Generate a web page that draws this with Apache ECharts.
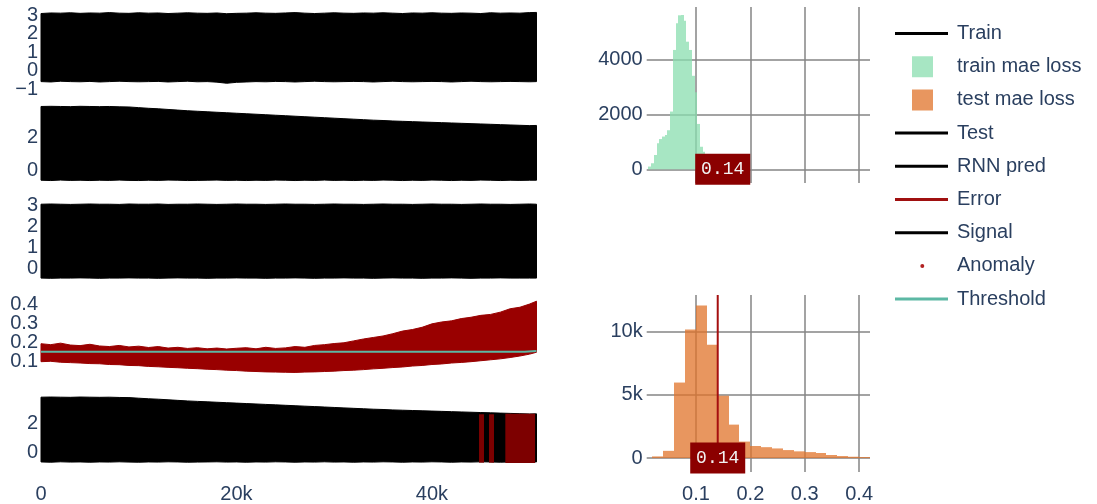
<!DOCTYPE html>
<html><head><meta charset="utf-8">
<script src="https://cdn.jsdelivr.net/npm/echarts@6/dist/echarts.min.js"></script>
<style>html,body{margin:0;padding:0;background:#fff}#c{width:1097px;height:504px}</style>
</head><body><div id="c"></div>
<script>
// ---------- data ----------
const sampleK = [0,1,2,3,4,5,6,7,8,9,10,11,12,13,14,15,16,17,18,19,20,21,22,23,24,25,26,27,28,29,30,31,32,33,34,35,36,37,38,39,40,41,42,43,44,45,46,47,48,49,50,50.7];

const trainUpper = [3.08,3.11,3.10,3.12,3.09,3.11,3.10,3.13,3.10,3.09,
  3.12,3.10,3.11,3.08,3.10,3.12,3.10,3.09,3.11,3.07,
  3.09,3.10,3.12,3.10,3.09,3.11,3.13,3.10,3.08,3.10,
  3.12,3.10,3.09,3.11,3.10,3.12,3.10,3.08,3.11,3.10,
  3.12,3.10,3.09,3.11,3.10,3.08,3.12,3.10,3.11,3.10,3.13,3.14];
const trainLower = [-0.60,-0.62,-0.58,-0.60,-0.61,-0.59,-0.62,-0.60,-0.58,-0.60,
  -0.61,-0.60,-0.59,-0.62,-0.60,-0.58,-0.61,-0.60,-0.63,-0.69,
  -0.64,-0.62,-0.60,-0.61,-0.59,-0.60,-0.62,-0.60,-0.58,-0.60,
  -0.61,-0.60,-0.59,-0.60,-0.62,-0.60,-0.58,-0.60,-0.61,-0.60,
  -0.59,-0.60,-0.62,-0.60,-0.58,-0.60,-0.61,-0.60,-0.59,-0.60,-0.61,-0.60];

const testUpper = [3.85,3.86,3.85,3.84,3.86,3.85,3.84,3.85,3.83,3.82,
  3.78,3.74,3.71,3.67,3.63,3.59,3.56,3.53,3.50,3.47,
  3.44,3.41,3.38,3.35,3.32,3.29,3.26,3.23,3.20,3.17,
  3.14,3.11,3.08,3.05,3.02,3.00,2.97,2.95,2.93,2.91,
  2.89,2.87,2.85,2.83,2.81,2.79,2.77,2.75,2.73,2.71,2.69,2.70];
const testLower = [-0.62,-0.64,-0.61,-0.63,-0.62,-0.64,-0.62,-0.63,-0.61,-0.63,
  -0.64,-0.62,-0.63,-0.61,-0.62,-0.64,-0.63,-0.62,-0.61,-0.63,
  -0.62,-0.64,-0.62,-0.63,-0.61,-0.62,-0.64,-0.62,-0.63,-0.61,
  -0.63,-0.62,-0.64,-0.62,-0.63,-0.61,-0.62,-0.64,-0.62,-0.63,
  -0.61,-0.62,-0.64,-0.62,-0.63,-0.61,-0.62,-0.64,-0.62,-0.63,-0.62,-0.62];

const rnnUpper = [3.04,3.05,3.04,3.03,3.04,3.05,3.04,3.04,3.03,3.05,
  3.04,3.04,3.05,3.03,3.04,3.04,3.05,3.04,3.03,3.04,
  3.05,3.04,3.04,3.03,3.04,3.05,3.04,3.04,3.03,3.04,
  3.05,3.04,3.04,3.03,3.04,3.05,3.04,3.04,3.03,3.04,
  3.05,3.04,3.04,3.03,3.04,3.05,3.04,3.04,3.03,3.04,3.05,3.04];
const rnnLower = [-0.43,-0.44,-0.43,-0.43,-0.42,-0.43,-0.44,-0.43,-0.43,-0.42,
  -0.43,-0.43,-0.44,-0.43,-0.42,-0.43,-0.43,-0.44,-0.43,-0.43,
  -0.42,-0.43,-0.43,-0.44,-0.43,-0.43,-0.42,-0.43,-0.44,-0.43,
  -0.43,-0.42,-0.43,-0.43,-0.44,-0.43,-0.42,-0.43,-0.43,-0.44,
  -0.43,-0.43,-0.42,-0.43,-0.44,-0.43,-0.43,-0.42,-0.43,-0.43,-0.43,-0.43];

const errorUpper = [0.195,0.19,0.198,0.188,0.185,0.192,0.183,0.18,0.186,0.178,
  0.182,0.175,0.18,0.172,0.176,0.17,0.174,0.168,0.172,0.167,
  0.171,0.174,0.168,0.176,0.17,0.173,0.18,0.176,0.186,0.19,
  0.196,0.2,0.21,0.22,0.228,0.236,0.248,0.262,0.27,0.282,
  0.3,0.31,0.316,0.328,0.335,0.345,0.35,0.362,0.38,0.388,0.405,0.42];
const errorLower = [0.1,0.102,0.097,0.095,0.093,0.09,0.089,0.085,0.084,0.08,
  0.079,0.075,0.073,0.07,0.068,0.065,0.063,0.06,0.058,0.055,
  0.053,0.05,0.048,0.046,0.045,0.044,0.043,0.045,0.046,0.048,
  0.05,0.053,0.055,0.058,0.062,0.065,0.069,0.072,0.077,0.08,
  0.085,0.088,0.093,0.096,0.1,0.105,0.11,0.115,0.122,0.13,0.14,0.15];

const thresholdK = [0, 49.5, 50.7];
const thresholdLine = [0.152, 0.152, 0.157];
const thresholdValue = 0.14;

const anomalyStartK = [44.82, 45.84, 47.51];
const anomalyEndK   = [45.33, 46.35, 50.55];
const anomalyLow    = [-0.67, -0.67, -0.7];
const anomalyHigh   = [2.67, 2.67, 2.7];

const trainEdges = [0.0125,0.0175,0.0225,0.0275,0.0325,0.0375,0.0425,0.0475,0.0525,0.0575,0.0625,0.0675,0.0725,0.0775,0.0825,0.0875,0.0925,0.0975,0.1025,0.1075,0.1125,0.1175,0.1225];
const trainCounts = [100,220,520,950,1100,1190,1250,1420,2100,4340,5310,5600,5610,5400,4640,4340,3400,2800,1650,820,640,60];

const testEdges = [0.02,0.04,0.06,0.08,0.10,0.12,0.14,0.16,0.18,0.20,0.22,0.24,0.26,0.28,0.30,0.32,0.34,0.36,0.38,0.40,0.42];
const testCounts = [130,570,5960,10150,12050,8940,4920,2640,1300,950,860,760,630,530,470,400,240,160,105,80];

const xTicks = [0, 20000, 40000];
const histXTicks = [0.1, 0.2, 0.3, 0.4];

// ---------- styling ----------
const FONT = '"Liberation Sans", Arial, Helvetica, sans-serif';
const TXT = '#2a3f5f';
const BLACK = '#000000';
const ERR = '#990000';
const ANOM = '#7d0000';
const TEAL = '#5cb8a4';
const GREEN = '#8adeaf';
const ORANGE = '#e0732a';
const BOX = '#8b0000';
const GRIDC = '#858585';

const chart = echarts.init(document.getElementById('c'), null, {renderer: 'canvas'});

const leftPanels = [
  {top: 11.3, height: 81.4, min: -1.2, max: 3.2, ticks: [-1,0,1,2,3]},
  {top: 104, height: 79.2, min: -0.8, max: 4.0, ticks: [0,2]},
  {top: 200.8, height: 78.8, min: -0.5, max: 3.2, ticks: [0,1,2,3]},
  {top: 299.3, height: 77.5, min: 0.02, max: 0.43, ticks: [0.1,0.2,0.3,0.4]},
  {top: 395, height: 73.5, min: -0.9, max: 4.0, ticks: [0,2]}
];

const grids = leftPanels.map(p => ({left: 41, width: 495.5, top: p.top, height: p.height}));
grids.push({left: 646.7, width: 223.3, top: 7.05, height: 176});
grids.push({left: 646.7, width: 223.3, top: 295, height: 178});

const minusFmt = v => (v < 0 ? '\u2212' + Math.abs(v) : String(v));
const kFmt = v => (v === 0 ? '0' : (v / 1000) + 'k');
const plainFmt = v => String(v);

const labelBase = {fontSize: 20, color: TXT, fontFamily: FONT,
  hideOverlap: false, showMinLabel: true, showMaxLabel: true};

const xAxes = leftPanels.map((p, i) => ({
  type: 'value', gridIndex: i, min: 0, max: 50700, position: 'bottom',
  axisLine: {show: false}, splitLine: {show: false},
  axisTick: {show: false, customValues: xTicks},
  axisLabel: Object.assign({}, labelBase, {show: i === 4, customValues: xTicks, formatter: kFmt, margin: 18})
}));
[5, 6].forEach(g => xAxes.push({
  type: 'value', gridIndex: g, min: 0.0094, max: 0.42, position: 'bottom',
  axisLine: {show: false},
  axisTick: {show: false, customValues: histXTicks},
  splitLine: {show: true, lineStyle: {color: GRIDC, width: 1.5}},
  axisLabel: Object.assign({}, labelBase, {show: g === 6, customValues: histXTicks, formatter: plainFmt, margin: 12})
}));

// left panels: labels split over two overlaid left axes so tightly packed labels all stay visible
function leftY(g, p, ticks) {
  return {
    type: 'value', gridIndex: g, min: p.min, max: p.max, position: 'left', offset: 0,
    axisLine: {show: false}, splitLine: {show: false},
    axisTick: {show: false, customValues: ticks},
    axisLabel: Object.assign({}, labelBase, {customValues: ticks, formatter: minusFmt, margin: 3})
  };
}
const yAxes = leftPanels.map((p, i) => leftY(i, p, p.ticks.filter((t, j) => j % 2 === 0)));
yAxes.push({
  type: 'value', gridIndex: 5, min: -500, max: 5900, position: 'left',
  axisLine: {show: false},
  axisTick: {show: false, customValues: [0, 2000, 4000]},
  splitLine: {show: true, lineStyle: {color: GRIDC, width: 1.5}},
  axisLabel: Object.assign({}, labelBase, {customValues: [0, 2000, 4000], formatter: plainFmt, margin: 4})
});
yAxes.push({
  type: 'value', gridIndex: 6, min: -1100, max: 12870, position: 'left',
  axisLine: {show: false},
  axisTick: {show: false, customValues: [0, 5000, 10000]},
  splitLine: {show: true, lineStyle: {color: GRIDC, width: 1.5}},
  axisLabel: Object.assign({}, labelBase, {customValues: [0, 5000, 10000], formatter: kFmt, margin: 4})
});
leftPanels.forEach((p, i) => {
  const odd = p.ticks.filter((t, j) => j % 2 === 1);
  if (odd.length) yAxes.push(leftY(i, p, odd));
});

// band between a lower and an upper envelope: one polygon built from all samples
function band(name, g, upper, lower, color) {
  return {
    type: 'custom', name: name, xAxisIndex: g, yAxisIndex: g, color: color,
    animation: false, silent: true,
    data: sampleK.map((k, i) => [k * 1000, lower[i], upper[i]]),
    encode: {x: 0, y: [1, 2]},
    renderItem: (params, api) => {
      if (params.dataIndexInside !== 0) return {type: 'group', children: []};
      const n = params.dataInsideLength;
      const top = [], bottom = [];
      for (let j = 0; j < n; j++) {
        const x = api.value(0, j);
        bottom.push(api.coord([x, api.value(1, j)]));
        top.push(api.coord([x, api.value(2, j)]));
      }
      const pts = bottom.concat(top.reverse());
      return {type: 'polygon', shape: {points: pts},
        style: {fill: color, stroke: color, lineWidth: 1}};
    }
  };
}

function hist(name, g, edges, counts, color) {
  return {
    type: 'custom', name: name, xAxisIndex: g, yAxisIndex: g, color: color,
    animation: false, silent: true, clip: true,
    data: counts.map((c, i) => [edges[i], edges[i + 1], c]),
    encode: {x: [0, 1], y: 2},
    renderItem: (params, api) => {
      const p0 = api.coord([api.value(0), api.value(2)]);
      const p1 = api.coord([api.value(1), 0]);
      const x0 = Math.round(p0[0]), x1 = Math.round(p1[0]);
      return {type: 'rect', shape: {x: x0, y: p0[1], width: x1 - x0, height: p1[1] - p0[1]},
        style: {fill: color, opacity: 0.75}};
    }
  };
}

const series = [];
series.push(band('Train', 0, trainUpper, trainLower, BLACK));
series.push(band('Test', 1, testUpper, testLower, BLACK));
series.push(band('RNN pred', 2, rnnUpper, rnnLower, BLACK));
series.push(band('Error', 3, errorUpper, errorLower, ERR));
series.push(band('Signal', 4, testUpper, testLower, BLACK));
series.push({
  type: 'line', name: 'Threshold', xAxisIndex: 3, yAxisIndex: 3, color: TEAL, z: 5,
  symbol: 'none', animation: false, silent: true,
  data: thresholdK.map((k, i) => [k * 1000, thresholdLine[i]]),
  lineStyle: {color: TEAL, width: 2}
});
series.push({
  type: 'custom', name: 'Anomaly', xAxisIndex: 4, yAxisIndex: 4, color: ANOM, z: 5,
  animation: false, silent: true,
  data: anomalyStartK.map((s, i) => [s * 1000, anomalyEndK[i] * 1000, anomalyLow[i], anomalyHigh[i]]),
  encode: {x: [0, 1], y: [2, 3]},
  renderItem: (params, api) => {
    const p0 = api.coord([api.value(0), api.value(3)]);
    const p1 = api.coord([api.value(1), api.value(2)]);
    return {type: 'rect', shape: {x: p0[0], y: p0[1], width: p1[0] - p0[0], height: p1[1] - p0[1]},
      style: {fill: ANOM}};
  }
});
series.push(hist('train mae loss', 5, trainEdges, trainCounts, GREEN));
series.push(hist('test mae loss', 6, testEdges, testCounts, ORANGE));
// threshold line on test histogram
series.push({
  type: 'line', name: 'thr-hist', xAxisIndex: 6, yAxisIndex: 6, z: 4,
  symbol: 'none', animation: false, silent: true,
  data: [[thresholdValue, 0], [thresholdValue, 12870]],
  lineStyle: {color: '#a50f0f', width: 2}
});
// threshold value boxes
const boxLabel = {show: true, position: 'inside', formatter: String(thresholdValue),
  color: '#f2f2f2', fontFamily: '"Liberation Mono", "DejaVu Sans Mono", monospace', fontSize: 18};
series.push({
  type: 'scatter', name: 'thr-box-1', xAxisIndex: 5, yAxisIndex: 5, z: 10, silent: true, animation: false,
  data: [[thresholdValue, 0]], symbol: 'rect', symbolSize: [55, 31], symbolOffset: [5, 0],
  itemStyle: {color: BOX, opacity: 1}, label: boxLabel
});
series.push({
  type: 'scatter', name: 'thr-box-2', xAxisIndex: 6, yAxisIndex: 6, z: 10, silent: true, animation: false,
  data: [[thresholdValue, 0]], symbol: 'rect', symbolSize: [55, 31],
  itemStyle: {color: BOX, opacity: 1}, label: boxLabel
});

const CORN = 'M0,0L0.01,0L0,0.01Z M57,21L56.99,21L57,20.99Z ';
const LINE_ICON = 'path://' + CORN + 'M0,9L53,9L53,12L0,12Z';
const SQ_ICON = 'path://' + CORN + 'M17,0L38,0L38,21L17,21Z';
const DOT_ICON = 'path://' + CORN + 'M25.3,10.5A2,2 0 1 0 29.3,10.5A2,2 0 1 0 25.3,10.5Z';

chart.setOption({
  backgroundColor: '#ffffff',
  animation: false,
  grid: grids,
  xAxis: xAxes,
  yAxis: yAxes,
  legend: {
    orient: 'vertical', left: 890, top: 18, itemWidth: 57, itemHeight: 21, itemGap: 12.2,
    selectedMode: false,
    textStyle: {fontSize: 20, color: TXT, fontFamily: FONT},
    data: [
      {name: 'Train', icon: LINE_ICON, itemStyle: {color: BLACK}},
      {name: 'train mae loss', icon: SQ_ICON, itemStyle: {color: GREEN, opacity: 0.75}},
      {name: 'test mae loss', icon: SQ_ICON, itemStyle: {color: ORANGE, opacity: 0.75}},
      {name: 'Test', icon: LINE_ICON, itemStyle: {color: BLACK}},
      {name: 'RNN pred', icon: LINE_ICON, itemStyle: {color: BLACK}},
      {name: 'Error', icon: LINE_ICON, itemStyle: {color: '#a01010'}},
      {name: 'Signal', icon: LINE_ICON, itemStyle: {color: BLACK}},
      {name: 'Anomaly', icon: DOT_ICON, itemStyle: {color: '#b22222'}},
      {name: 'Threshold', icon: LINE_ICON, itemStyle: {color: TEAL}}
    ]
  },
  series: series
});
</script>
</body></html>
